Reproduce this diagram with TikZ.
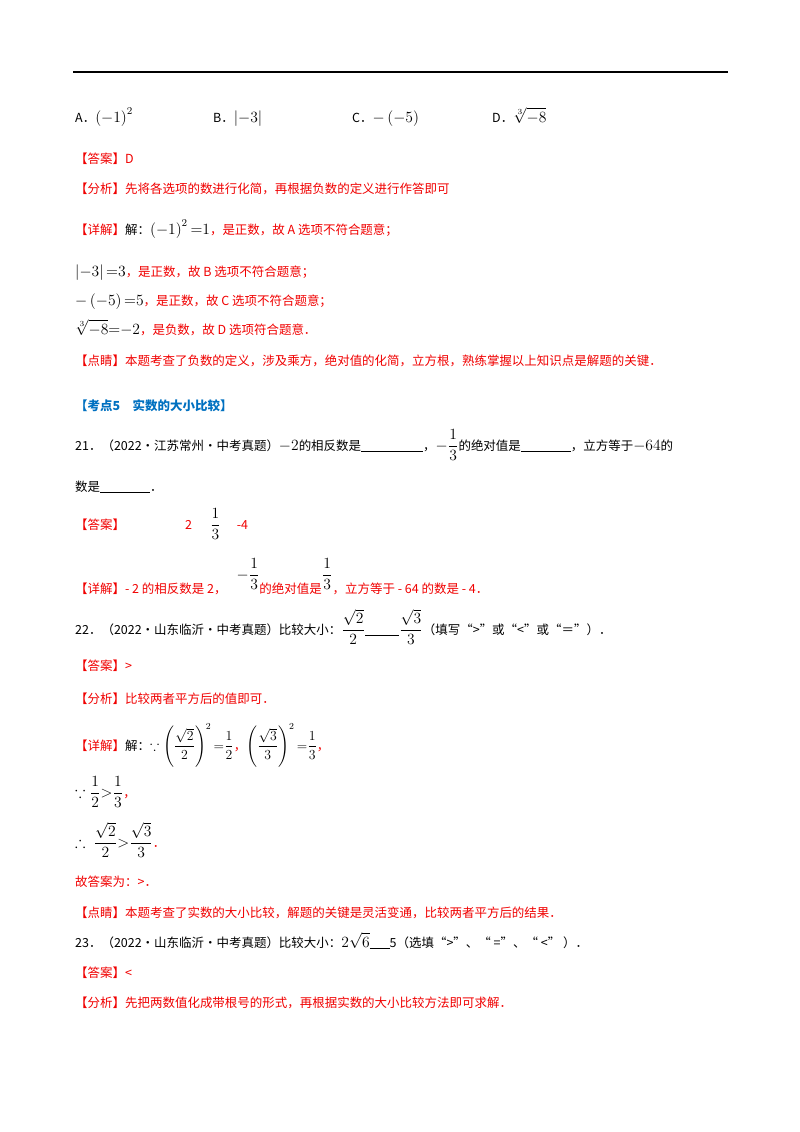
\documentclass[tikz,border=0pt,12pt]{standalone}
\usepackage{amsmath,amssymb,graphicx}
\usepackage{fontspec}
\setmainfont{Noto Sans CJK SC}[Scale=1.04]
\definecolor{myred}{RGB}{240,0,0}
\definecolor{myblue}{RGB}{0,112,192}
\newcommand\mm[1]{\scalebox{1.3}{$\displaystyle #1$}}
\newcommand\ms[1]{\scalebox{1.15}{$\displaystyle #1$}}
\begin{document}
\begin{tikzpicture}[x=1pt,y=-1pt,
  ln/.style={anchor=base west,inner sep=0pt,font=\normalsize},
  r/.style={ln,text=myred}]
\useasboundingbox (0,0) rectangle (800,1132);
\draw[line width=1.5pt] (73,72) coordinate (ra) -- (728,72) coordinate (rb);
\node[ln] (oa) at (75,122) {A．\mm{\left(-1\right)^2}};
\node[ln] (ob) at (213,122) {B．\mm{\left|-3\right|}};
\node[ln] (oc) at (352,122) {C．\mm{-\left(-5\right)}};
\node[ln] (od) at (492,122) {D．\mm{\sqrt[3]{-8}}};
\node[r] (a1) at (75,163) {【答案】D};
\node[r] (f1) at (75,193) {【分析】先将各选项的数进行化简，再根据负数的定义进行作答即可};
\node[r] (x1) at (75,234) {【详解】\textcolor{black}{解：\mm{\left(-1\right)^2{=}1}}，是正数，故 A 选项不符合题意；};
\node[r] (x2) at (75,276) {\textcolor{black}{\mm{\left|-3\right|{=}3}}，是正数，故 B 选项不符合题意；};
\node[r] (x3) at (75,305) {\textcolor{black}{\mm{-\left(-5\right){=}5}}，是正数，故 C 选项不符合题意；};
\node[r] (x4) at (75,334) {\textcolor{black}{\mm{\sqrt[3]{-8}{=}{-2}}}，是负数，故 D 选项符合题意．};
\node[r] (d1) at (75,365) {【点睛】本题考查了负数的定义，涉及乘方，绝对值的化简，立方根，熟练掌握以上知识点是解题的关键．};
\node[ln,text=myblue,font=\normalsize\bfseries] (k5) at (75,410) {【考点5\quad 实数的大小比较】};
\node[ln] (q21) at (75,450) {21．（2022·江苏常州·中考真题）\mm{-2}的相反数是\underline{\hspace{62pt}}，\mm{-\frac{1}{3}}的绝对值是\underline{\hspace{50pt}}，立方等于\mm{-64}的};
\node[ln] (q21b) at (75,491) {数是\underline{\hspace{50pt}}．};
\node[r] (a21) at (75,529) {【答案】\hspace{60pt}2\hspace{18pt}\textcolor{black}{\mm{\frac{1}{3}}}\hspace{16pt}-4};
\node[r] (x21) at (75,593) {【详解】- 2 的相反数是 2，\hspace{10pt}\textcolor{black}{\raisebox{14pt}{\mm{-\frac{1}{3}}}}的绝对值是\textcolor{black}{\raisebox{14pt}{\mm{\frac{1}{3}}}}，立方等于 - 64 的数是 - 4．};
\node[ln] (q22) at (75,634) {22．（2022·山东临沂·中考真题）比较大小：\mm{\frac{\sqrt{2}}{2}}\underline{\hspace{34pt}}\mm{\frac{\sqrt{3}}{3}}（填写“>”或“<”或“＝”）．};
\node[r] (a22) at (75,670) {【答案】>};
\node[r] (f22) at (75,703) {【分析】比较两者平方后的值即可．};
\node[r] (x22) at (75,750) {【详解】\textcolor{black}{解：\ms{\because\left(\frac{\sqrt{2}}{2}\right)^2{=}\frac{1}{2}}}，\textcolor{black}{\ms{\left(\frac{\sqrt{3}}{3}\right)^2{=}\frac{1}{3}}}，};
\node[r] (x22b) at (75,797) {\textcolor{black}{\mm{\because\frac{1}{2}{>}\frac{1}{3}}}，};
\node[r] (x22c) at (75,847) {\textcolor{black}{\mm{\therefore\ \frac{\sqrt{2}}{2}{>}\frac{\sqrt{3}}{3}}}．};
\node[r] (g22) at (75,886) {故答案为：>．};
\node[r] (d22) at (75,917) {【点睛】本题考查了实数的大小比较，解题的关键是灵活变通，比较两者平方后的结果．};
\node[ln] (q23) at (75,947) {23．（2022·山东临沂·中考真题）比较大小：\mm{2\sqrt{6}}\underline{\hspace{20pt}}5（选填“>”、“ =”、“ <” ）．};
\node[r] (a23) at (75,977) {【答案】<};
\node[r] (f23) at (75,1007) {【分析】先把两数值化成带根号的形式，再根据实数的大小比较方法即可求解．};
\end{tikzpicture}
\end{document}
